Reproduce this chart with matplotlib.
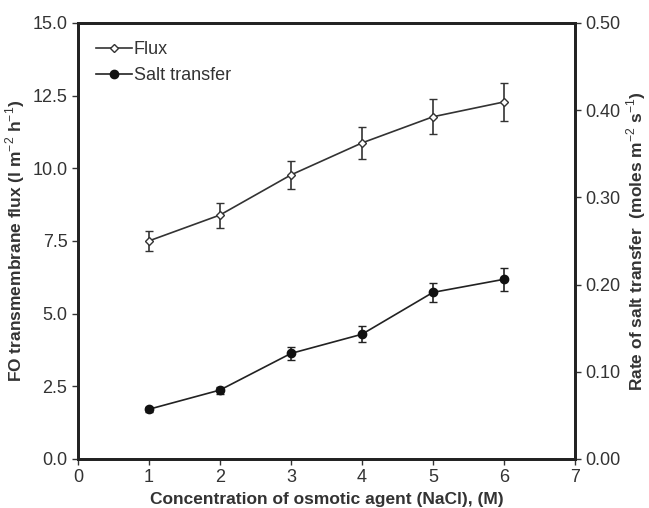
import matplotlib.pyplot as plt
from matplotlib.lines import Line2D
import numpy as np

plt.rcParams['font.family'] = ['Liberation Sans', 'DejaVu Sans']
plt.rcParams['mathtext.fontset'] = 'custom'
plt.rcParams['mathtext.rm'] = 'Liberation Sans'
plt.rcParams['mathtext.bf'] = 'Liberation Sans:bold'

conc = [1, 2, 3, 4, 5, 6]
flux = [7.50, 8.39, 9.77, 10.87, 11.77, 12.28]
flux_err = [0.34, 0.43, 0.48, 0.55, 0.60, 0.64]
salt = [0.057, 0.079, 0.121, 0.143, 0.191, 0.206]
salt_err = [0.003, 0.004, 0.007, 0.009, 0.011, 0.013]

txt = '#333333'

fig = plt.figure(figsize=(6.49, 5.08), dpi=100)
ax = fig.add_axes([0.120, 0.0965, 0.766, 0.8585])
ax2 = ax.twinx()

# flux on left axis, open markers
ax.errorbar(conc, flux, yerr=flux_err, color='#333333', lw=1.2,
            marker='D', ms=4, mfc='white', mec='#333333', mew=1,
            capsize=3, elinewidth=1.2)
# salt transfer on right axis
ax2.errorbar(conc, salt, yerr=salt_err, color='#222222', lw=1.2,
             marker='o', ms=6, mfc='#111111', mec='#111111',
             capsize=3, elinewidth=1.2)

ax.set_xlim(0, 7)
ax.set_ylim(0, 15)
ax2.set_ylim(0, 0.5)
ax.set_xticks(range(0, 8))
ax.set_yticks(np.arange(0, 15.1, 2.5))
ax.set_yticklabels(['%.1f' % v for v in np.arange(0, 15.1, 2.5)])
ax2.set_yticks(np.arange(0, 0.51, 0.1))
ax2.set_yticklabels(['%.2f' % v for v in np.arange(0, 0.51, 0.1)])

for a in (ax, ax2):
    for s in a.spines.values():
        s.set_linewidth(2)
        s.set_color('#222222')
    a.tick_params(labelsize=13, colors=txt, length=4, width=1, direction='out')

ax.set_xlabel('Concentration of osmotic agent (NaCl), (M)', fontsize=12.5,
              fontweight='bold', color=txt, labelpad=4)
ax.set_ylabel('FO transmembrane flux (l m$^{-2}$ h$^{-1}$)', fontsize=12.5,
              fontweight='bold', color=txt, labelpad=4)
ax2.set_ylabel('Rate of salt transfer  (moles m$^{-2}$ s$^{-1}$)', fontsize=12.5,
               fontweight='bold', color=txt, labelpad=3)

h1 = Line2D([], [], color='#333333', lw=1.2, marker='D', ms=4, mfc='white', mec='#333333')
h2 = Line2D([], [], color='#222222', lw=1.2, marker='o', ms=6, mfc='#111111', mec='#111111')
ax.legend([h1, h2], ['Flux', 'Salt transfer'], loc='upper left', frameon=False,
          fontsize=13, handlelength=2.0, handletextpad=0.1, labelspacing=0.5,
          borderaxespad=0.6, labelcolor=txt)

fig.savefig('out.png', dpi=100)
plt.close()
